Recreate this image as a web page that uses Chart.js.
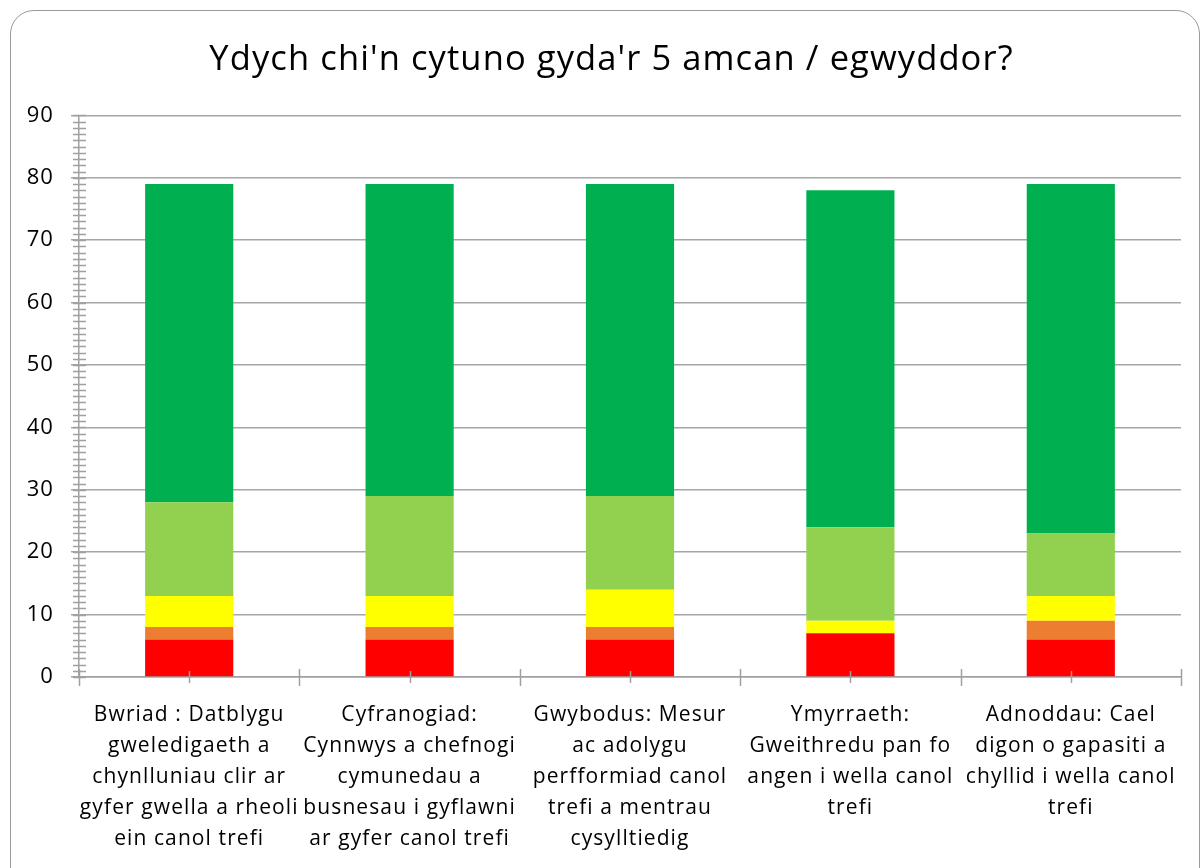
<!DOCTYPE html>
<html>
<head>
<meta charset="utf-8">
<script src="https://cdn.jsdelivr.net/npm/chart.js@4"></script>
<style>
    body { margin: 0; background: #fff; overflow: hidden; }
    .wrap { position: relative; width: 1200px; height: 868px; overflow: hidden; }
    .frame {
        position: absolute; left: 10px; top: 10px; width: 1190px; height: 900px;
        border: 1.5px solid #9a9a9a; border-radius: 24px; box-sizing: border-box;
    }
    canvas { position: absolute; left: 0; top: 0; }
</style>
</head>
<body>
<div class="wrap">
    <div class="frame"></div>
    <canvas id="amcanChart" width="1200" height="868"></canvas>
</div>
<script>
// --- DATA ---
const categories = [
    ['Bwriad : Datblygu', 'gweledigaeth a', 'chynlluniau clir ar', 'gyfer gwella a rheoli', 'ein canol trefi'],
    ['Cyfranogiad:', 'Cynnwys a chefnogi', 'cymunedau a', 'busnesau i gyflawni', 'ar gyfer canol trefi'],
    ['Gwybodus: Mesur', 'ac adolygu', 'perfformiad canol', 'trefi a mentrau', 'cysylltiedig'],
    ['Ymyrraeth:', 'Gweithredu pan fo', 'angen i wella canol', 'trefi'],
    ['Adnoddau: Cael', 'digon o gapasiti a', 'chyllid i wella canol', 'trefi']
];
const anghytunoGryf = [6, 6, 6, 7, 6];
const anghytuno = [2, 2, 2, 0, 3];
const niwtral = [5, 5, 6, 2, 4];
const cytuno = [15, 16, 15, 15, 10];
const cytunoGryf = [51, 50, 50, 54, 56];
const yTicks = [0, 10, 20, 30, 40, 50, 60, 70, 80, 90];

const axisGrey = '#a0a0a0';
const fontName = "'Open Sans', 'Noto Sans', sans-serif";

// the original text is a bit wider (Calibri, stretched) - loosen the letters
const wideText = {
    id: 'wideText',
    afterLayout(chart) {
        // title sits a little right of centre, so the y box is narrow;
        // let its labels draw to the left of it
        chart.scales.y.left = 0;
    },
    beforeDraw(chart) {
        chart.ctx.letterSpacing = '1.1px';
    }
};

// minor tick marks like the Excel original
const minorTicks = {
    id: 'minorTicks',
    afterDraw(chart) {
        const { ctx, scales: { x, y }, chartArea } = chart;
        ctx.save();
        ctx.strokeStyle = axisGrey;
        ctx.lineWidth = 1.5;
        ctx.beginPath();
        for (let v = yTicks[0]; v <= yTicks[yTicks.length - 1]; v++) {
            const py = Math.round(y.getPixelForValue(v)) + 0.5;
            ctx.moveTo(chartArea.left - 6, py);
            ctx.lineTo(chartArea.left + 7, py);
        }
        const n = categories.length;
        const base = chartArea.bottom;
        for (let i = 0; i < n; i++) {
            const cx = Math.round(x.getPixelForValue(i)) + 0.5;
            ctx.moveTo(cx, base - 6);
            ctx.lineTo(cx, base + 6);
        }
        for (let i = 0; i <= n; i++) {
            const bx = i === 0 ? chartArea.left : i === n ? chartArea.right
                : (x.getPixelForValue(i - 1) + x.getPixelForValue(i)) / 2;
            const px = Math.round(bx) + 0.5;
            ctx.moveTo(px, base - 8);
            ctx.lineTo(px, base + 9);
        }
        ctx.stroke();
        ctx.restore();
    }
};

const ds = (label, data, color) => ({
    label, data, backgroundColor: color, borderWidth: 0,
    barPercentage: 0.4, categoryPercentage: 1
});

new Chart(document.getElementById('amcanChart'), {
    type: 'bar',
    data: {
        labels: categories,
        datasets: [
            ds("Anghytuno'n gryf", anghytunoGryf, '#ff0000'),
            ds('Anghytuno', anghytuno, '#ed7d31'),
            ds('Niwtral', niwtral, '#ffff00'),
            ds('Cytuno', cytuno, '#92d050'),
            ds("Cytuno'n gryf", cytunoGryf, '#00b050')
        ]
    },
    plugins: [wideText, minorTicks],
    options: {
        responsive: false,
        animation: false,
        layout: { padding: { left: 42, right: 19, top: 0, bottom: 8 } },
        plugins: {
            legend: { display: false },
            tooltip: { enabled: false },
            title: {
                display: true,
                text: "Ydych chi'n cytuno gyda'r 5 amcan / egwyddor?",
                color: '#000',
                font: { family: fontName, size: 34.5, weight: 'normal', lineHeight: 1.2 },
                padding: { top: 39, bottom: 35 }
            }
        },
        scales: {
            x: {
                stacked: true,
                grid: { display: false },
                border: { display: true, color: axisGrey, width: 1.5 },
                ticks: {
                    color: '#000', font: { family: fontName, size: 21, lineHeight: 1.48 },
                    padding: 14, maxRotation: 0, autoSkip: false
                },
                afterFit(s) { s.height = 183; }
            },
            y: {
                stacked: true,
                min: 0,
                max: 90,
                afterBuildTicks(s) { s.ticks = yTicks.map(v => ({ value: v })); },
                grid: { color: '#a6a6a6', lineWidth: 1.5, tickLength: 8 },
                border: { color: axisGrey, width: 1.5 },
                ticks: { color: '#000', font: { family: fontName, size: 22 }, padding: 17 },
                afterFit(s) { s.width = 37; }
            }
        }
    }
});
</script>
</body>
</html>
